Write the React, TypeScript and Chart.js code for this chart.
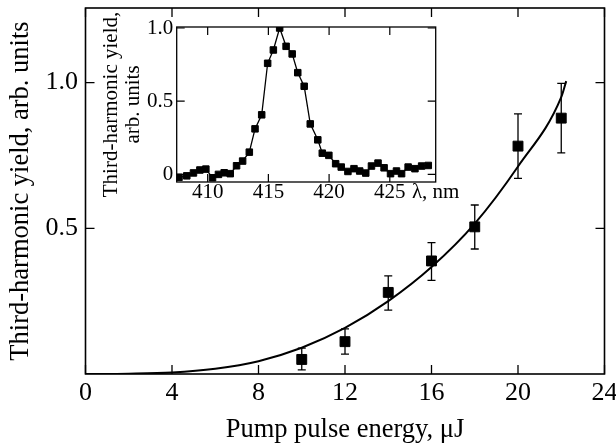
import React, { useEffect, useRef } from "react";
import { Chart, registerables } from "chart.js";

Chart.register(...registerables);

// ---------- main plot data ----------
const energy = [10, 12, 14, 16, 18, 20, 22];
const yieldVals = [0.05, 0.111, 0.28, 0.388, 0.505, 0.782, 0.878];
const yieldHigh = [0.089, 0.155, 0.337, 0.451, 0.58, 0.893, 0.997];
const yieldLow = [0.014, 0.068, 0.219, 0.321, 0.429, 0.671, 0.759];

const fitEnergy = [0, 2, 4, 6, 8, 10, 12, 14, 16, 18, 20, 22, 22.23];
const fitYield = [0, 0.001, 0.005, 0.018, 0.044, 0.09, 0.158, 0.25, 0.367, 0.516, 0.712, 0.95, 1.005];

const mainXTicks = [0, 4, 8, 12, 16, 20, 24];
const mainYTicks = [0.5, 1.0];
const mainYTickLabels = ["0.5", "1.0"];
const mainXTitle = "Pump pulse energy, μJ";
const mainYTitle = "Third-harmonic yield, arb. units";

// ---------- inset data ----------
const wavelength = [
  407.64, 408.28, 408.83, 409.36, 409.85, 410.4, 410.89, 411.36, 411.86, 412.38,
  412.88, 413.43, 413.9, 414.45, 414.94, 415.41, 415.93, 416.46, 416.96, 417.42,
  417.95, 418.45, 419.07, 419.44, 419.98, 420.54, 421.0, 421.55, 422.05, 422.52,
  423.02, 423.49, 424.03, 424.53, 425.06, 425.55, 425.97, 426.51, 427.07, 427.62,
  428.17,
];
const spectrum = [
  -0.02, -0.01, 0.01, 0.03, 0.036, -0.023, 0.0, 0.011, 0.005, 0.059,
  0.091, 0.152, 0.311, 0.407, 0.759, 0.85, 1.0, 0.875, 0.823, 0.695,
  0.602, 0.345, 0.236, 0.145, 0.13, 0.073, 0.05, 0.02, 0.039, 0.023,
  0.009, 0.057, 0.077, 0.045, 0.005, 0.023, 0.005, 0.05, 0.039, 0.057,
  0.061,
];
const insetXTicks = [410, 415, 420, 425];
const insetXMin = 407.45;
const insetXMax = 428.78;
const insetYTicks = [0, 0.5, 1.0];
const insetYTickLabels = ["0", "0.5", "1.0"];
const insetXTitle = "λ, nm";
const insetYTitle = ["Third-harmonic yield,", "arb. units"];

const FAMILY = "'Liberation Serif', 'Times New Roman', Times, serif";

function makeFrame(xTicks: number[], yTicks: number[], len: number, tickWidth: number, frameWidth: number) {
  return {
    id: "frame",
    afterDraw(chart: any) {
      const { ctx, chartArea: a, scales } = chart;
      const xs = scales.x;
      const ys = scales.y;
      ctx.save();
      ctx.strokeStyle = "#000";
      ctx.lineWidth = tickWidth;
      ctx.beginPath();
      for (const v of xTicks) {
        const p = xs.getPixelForValue(v);
        ctx.moveTo(p, a.bottom);
        ctx.lineTo(p, a.bottom - len);
        ctx.moveTo(p, a.top);
        ctx.lineTo(p, a.top + len);
      }
      for (const v of yTicks) {
        const p = ys.getPixelForValue(v);
        ctx.moveTo(a.left, p);
        ctx.lineTo(a.left + len, p);
        ctx.moveTo(a.right, p);
        ctx.lineTo(a.right - len, p);
      }
      ctx.stroke();
      ctx.lineWidth = frameWidth;
      ctx.strokeRect(a.left, a.top, a.right - a.left, a.bottom - a.top);
      ctx.restore();
    },
  };
}

function makeErrorBars(xs: number[], lo: number[], hi: number[], cap: number, width: number) {
  return {
    id: "errorBars",
    afterDatasetsDraw(chart: any) {
      const { ctx, scales } = chart;
      ctx.save();
      ctx.strokeStyle = "#000";
      ctx.lineWidth = width;
      ctx.beginPath();
      xs.forEach((x, i) => {
        const px = scales.x.getPixelForValue(x);
        const pl = scales.y.getPixelForValue(lo[i]);
        const ph = scales.y.getPixelForValue(hi[i]);
        ctx.moveTo(px, pl);
        ctx.lineTo(px, ph);
        ctx.moveTo(px - cap / 2, pl);
        ctx.lineTo(px + cap / 2, pl);
        ctx.moveTo(px - cap / 2, ph);
        ctx.lineTo(px + cap / 2, ph);
      });
      ctx.stroke();
      ctx.restore();
    },
  };
}

export default function App() {
  const mainRef = useRef<HTMLCanvasElement | null>(null);
  const insetRef = useRef<HTMLCanvasElement | null>(null);

  useEffect(() => {
    if (!mainRef.current || !insetRef.current) return;

    const main = new Chart(mainRef.current, {
      type: "line",
      data: {
        datasets: [
          {
            data: fitEnergy.map((x, i) => ({ x, y: fitYield[i] })),
            borderColor: "#000",
            borderWidth: 2,
            pointRadius: 0,
            cubicInterpolationMode: "monotone",
            fill: false,
          },
          {
            data: energy.map((x, i) => ({ x, y: yieldVals[i] })),
            showLine: false,
            pointStyle: "rect",
            pointRadius: 7,
            pointBackgroundColor: "#000",
            pointBorderColor: "#000",
            pointBorderWidth: 1,
          },
        ],
      } as any,
      options: {
        responsive: false,
        animation: false,
        devicePixelRatio: 1,
        layout: { padding: { left: 0, top: 7.5, right: 11.5, bottom: 0 } },
        plugins: { legend: { display: false }, tooltip: { enabled: false } },
        scales: {
          x: {
            type: "linear",
            min: 0,
            max: 24,
            grid: { display: false, drawTicks: false },
            border: { display: false },
            afterBuildTicks: (s: any) => {
              s.ticks = mainXTicks.map((v) => ({ value: v }));
            },
            afterFit: (s: any) => {
              s.height = 72;
              s.paddingLeft = 0;
              s.paddingRight = 0;
            },
            ticks: {
              color: "#000",
              font: { family: FAMILY, size: 26, lineHeight: 1 },
              padding: 6,
              maxRotation: 0,
              autoSkip: false,
              callback: (v: any) => String(v),
            },
            title: {
              display: true,
              text: mainXTitle,
              color: "#000",
              font: { family: FAMILY, size: 26.5, lineHeight: 1.2 },
              padding: { top: 0, bottom: 0 },
            },
          },
          y: {
            type: "linear",
            min: 0,
            max: 1.256,
            grid: { display: false, drawTicks: false },
            border: { display: false },
            afterBuildTicks: (s: any) => {
              s.ticks = mainYTicks.map((v) => ({ value: v }));
            },
            afterFit: (s: any) => {
              s.width = 85.5;
              s.paddingTop = 0;
              s.paddingBottom = 0;
            },
            ticks: {
              color: "#000",
              font: { family: FAMILY, size: 26, lineHeight: 1 },
              padding: 7.5,
              autoSkip: false,
              callback: (v: any) => {
                const i = mainYTicks.indexOf(Number(v));
                return i >= 0 ? mainYTickLabels[i] : "";
              },
            },
            title: {
              display: true,
              text: mainYTitle,
              color: "#000",
              font: { family: FAMILY, size: 26.5, lineHeight: 1.2 },
              padding: { top: 5.5, bottom: 0 },
            },
          },
        },
      } as any,
      plugins: [
        makeErrorBars(energy, yieldLow, yieldHigh, 8, 1.3),
        makeFrame(mainXTicks, mainYTicks, 9, 1.3, 1.6),
      ],
    });

    const inset = new Chart(insetRef.current, {
      type: "line",
      data: {
        datasets: [
          {
            data: wavelength.map((x, i) => ({ x, y: spectrum[i] })),
            borderColor: "#000",
            borderWidth: 1.3,
            pointStyle: "rect",
            pointRadius: 4.6,
            pointBackgroundColor: "#000",
            pointBorderColor: "#000",
            pointBorderWidth: 1,
            tension: 0,
            fill: false,
          },
        ],
      } as any,
      options: {
        responsive: false,
        animation: false,
        devicePixelRatio: 1,
        layout: { padding: { left: 0, top: 22, right: 44.3, bottom: 0 } },
        plugins: { legend: { display: false }, tooltip: { enabled: false } },
        scales: {
          x: {
            type: "linear",
            min: insetXMin,
            max: insetXMax,
            grid: { display: false, drawTicks: false },
            border: { display: false },
            afterBuildTicks: (s: any) => {
              s.ticks = [...insetXTicks, insetXMax].map((v) => ({ value: v }));
            },
            afterFit: (s: any) => {
              s.height = 38;
              s.paddingLeft = 0;
              s.paddingRight = 0;
            },
            ticks: {
              color: "#000",
              font: { family: FAMILY, size: 21, lineHeight: 1 },
              padding: 0,
              maxRotation: 0,
              autoSkip: false,
              callback: (v: any) => (Number(v) === insetXMax ? insetXTitle : String(v)),
            },
          },
          y: {
            type: "linear",
            min: -0.052,
            max: 1.007,
            grid: { display: false, drawTicks: false },
            border: { display: false },
            afterBuildTicks: (s: any) => {
              s.ticks = insetYTicks.map((v) => ({ value: v }));
            },
            afterFit: (s: any) => {
              s.width = 86.7;
              s.paddingTop = 0;
              s.paddingBottom = 0;
            },
            ticks: {
              color: "#000",
              font: { family: FAMILY, size: 21, lineHeight: 1 },
              padding: 3.4,
              autoSkip: false,
              callback: (v: any) => {
                const i = insetYTicks.indexOf(Number(v));
                return i >= 0 ? insetYTickLabels[i] : "";
              },
            },
            title: {
              display: true,
              text: insetYTitle,
              color: "#000",
              font: { family: FAMILY, size: 21, lineHeight: 1.03 },
              padding: { top: 10.9, bottom: 0 },
            },
          },
        },
      } as any,
      plugins: [makeFrame(insetXTicks, insetYTicks, 8, 1.2, 1.3)],
    });

    return () => {
      main.destroy();
      inset.destroy();
    };
  }, []);

  return (
    <div
      style={{
        position: "fixed",
        left: 0,
        top: 0,
        width: 616,
        height: 446,
        background: "#fff",
        overflow: "hidden",
      }}
    >
      <canvas
        ref={mainRef}
        width={616}
        height={446}
        style={{ position: "absolute", left: 0, top: 0, width: 616, height: 446 }}
      />
      <canvas
        ref={insetRef}
        width={390}
        height={215}
        style={{ position: "absolute", left: 90, top: 5, width: 390, height: 215 }}
      />
    </div>
  );
}
